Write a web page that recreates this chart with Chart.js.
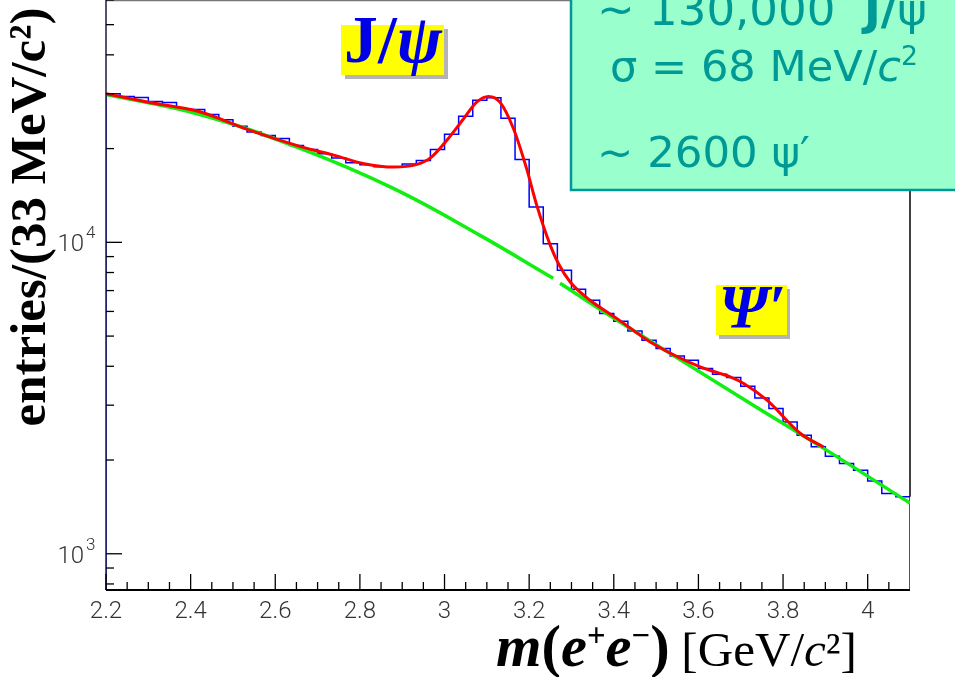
<!DOCTYPE html>
<html>
<head>
<meta charset="utf-8">
<script src="https://cdn.jsdelivr.net/npm/chart.js@4/dist/chart.umd.min.js"></script>
<style>
  html, body { margin: 0; padding: 0; background: #fff; }
  #wrap { width: 955px; height: 677px; position: relative; }
</style>
</head>
<body>
<div id="wrap"><canvas id="c" width="955" height="677"></canvas></div>
<script>
// Dielectron invariant-mass spectrum: 57 bins of 33.3 MeV/c^2 between 2.2 and 4.1 GeV/c^2
const massLow = 2.2;
const massHigh = 4.1;
const binWidth = 1 / 30;

const binCounts = [
  30000, 29400, 29180, 28340, 28130, 26850, 26710, 25740, 24760, 23610,
  22590, 22040, 21560, 20480, 19880, 19260, 18640, 18020, 17760, 17500,
  17500, 17840, 18330, 19880, 22250, 25420, 28610, 29120, 25050, 18460,
  12980, 9905, 8130, 7070, 6515, 5905, 5578, 5193, 4849, 4560,
  4317, 4182, 3933, 3772, 3681, 3451, 3165, 2927, 2651, 2403,
  2205, 2058, 1950, 1855, 1714, 1562, 1524
];

// Full fit (signal + background)
const fitMass   = [2.20, 2.30, 2.42, 2.54, 2.66, 2.74, 2.81, 2.88, 2.935, 2.966, 3.005, 3.045, 3.076, 3.104, 3.131, 3.163, 3.194, 3.218, 3.250, 3.270, 3.297, 3.344, 3.407, 3.486, 3.604, 3.675, 3.707, 3.762, 3.841, 3.896];
const fitCounts = [30000, 28190, 26300, 22870, 20300, 19020, 17890, 17450, 17800, 18640, 21240, 24930, 28190, 29400, 28190, 23160, 17240, 13140, 9780, 8500, 7459, 6515, 5700, 4787, 3980, 3697, 3522, 3112, 2434, 2200];

// Background component (null leaves the small break in the curve)
const bkgMass   = [2.20, 2.422, 2.659, 2.879, 3.084, 3.257, 3.265, 3.273, 3.408, 3.722, 3.895, 4.10];
const bkgCounts = [29850, 25740, 20030, 14900, 10530, 7664, null, 7386, 5621, 3044, 2184, 1454];

const xTickValues = [2.2, 2.4, 2.6, 2.8, 3.0, 3.2, 3.4, 3.6, 3.8, 4.0];
const xTickLabels = ['2.2', '2.4', '2.6', '2.8', '3', '3.2', '3.4', '3.6', '3.8', '4'];
const yTickDecades = [3, 4];

const yMin = 765, yMax = 60000;

// Histogram outline: value of each point holds until the next edge
const histPoints = [{ x: massLow, y: 1 }];
binCounts.forEach((v, i) => histPoints.push({ x: massLow + i * binWidth, y: v }));
histPoints.push({ x: massHigh, y: 1 });

const fitPoints = fitMass.map((m, i) => ({ x: m, y: fitCounts[i] }));
const bkgPoints = bkgMass.map((m, i) => ({ x: m, y: bkgCounts[i] }));

// Draw a sequence of styled text runs, scaled to span a given width
function drawRuns(ctx, runs, x, baseline, targetWidth, color) {
  const measure = (k) => runs.reduce((w, r) => {
    ctx.font = r.style + ' ' + (r.size * k) + 'px ' + r.family;
    return w + ctx.measureText(r.text).width + (r.gap || 0) * k;
  }, 0);
  const k = targetWidth ? targetWidth / measure(1) : 1;
  let cx = x;
  ctx.fillStyle = color;
  ctx.textAlign = 'left';
  ctx.textBaseline = 'alphabetic';
  runs.forEach(r => {
    ctx.font = r.style + ' ' + (r.size * k) + 'px ' + r.family;
    ctx.fillText(r.text, cx, baseline - (r.rise || 0) * k);
    cx += ctx.measureText(r.text).width + (r.gap || 0) * k;
  });
}

const SERIF = '"Liberation Serif", "DejaVu Serif", serif';
const SANS = '"DejaVu Sans", sans-serif';
const TICKFONT = 'Roboto, "DejaVu Sans", sans-serif';

const decorations = {
  id: 'decorations',
  afterDatasetsDraw(chart) {
    const ctx = chart.ctx, a = chart.chartArea;
    const xs = chart.scales.x, ys = chart.scales.y;
    ctx.save();

    // frame
    ctx.lineWidth = 1.5;
    ctx.strokeStyle = '#777';
    ctx.beginPath(); ctx.moveTo(a.left, a.top + 0.5); ctx.lineTo(a.right, a.top + 0.5); ctx.stroke();
    ctx.strokeStyle = '#000';
    ctx.beginPath(); ctx.moveTo(a.right, a.top); ctx.lineTo(a.right, ys.getPixelForValue(binCounts[binCounts.length - 1])); ctx.stroke();
    ctx.strokeStyle = '#1b1b40';
    ctx.beginPath(); ctx.moveTo(a.left, a.top); ctx.lineTo(a.left, a.bottom); ctx.stroke();
    ctx.strokeStyle = '#000';
    ctx.lineWidth = 2;
    ctx.beginPath(); ctx.moveTo(a.left, a.bottom); ctx.lineTo(a.right, a.bottom); ctx.stroke();

    // x ticks, pointing into the plot
    ctx.lineWidth = 1.3;
    for (let k = 0; k * 0.05 <= massHigh - massLow - 0.01; k++) {
      const px = xs.getPixelForValue(massLow + k * 0.05);
      const len = (k % 4 === 0) ? 16 : 8;
      ctx.beginPath(); ctx.moveTo(px, a.bottom); ctx.lineTo(px, a.bottom - len); ctx.stroke();
    }
    // y ticks
    for (let d = 2; d <= 4; d++) {
      for (let m = 1; m <= 9; m++) {
        const v = m * Math.pow(10, d);
        if (v < yMin || v > yMax) continue;
        const py = ys.getPixelForValue(v);
        const len = (m === 1) ? 16 : 8;
        ctx.beginPath(); ctx.moveTo(a.left, py); ctx.lineTo(a.left + len, py); ctx.stroke();
      }
    }

    // tick labels
    ctx.fillStyle = '#333';
    ctx.textAlign = 'center';
    ctx.textBaseline = 'alphabetic';
    ctx.font = '300 24px ' + TICKFONT;
    xTickValues.forEach((v, i) => {
      ctx.fillText(xTickLabels[i], xs.getPixelForValue(v), a.bottom + 28);
    });
    yTickDecades.forEach(d => {
      const py = ys.getPixelForValue(Math.pow(10, d));
      ctx.textAlign = 'right';
      ctx.font = '300 24px ' + TICKFONT;
      ctx.fillText('10', a.left - 22, py + 9);
      ctx.textAlign = 'left';
      ctx.font = '300 17px ' + TICKFONT;
      ctx.fillText(String(d), a.left - 20, py - 4);
    });
    ctx.restore();
  },
  afterDraw(chart) {
    const ctx = chart.ctx;
    ctx.save();

    // axis titles
    ctx.save();
    ctx.translate(45, 217);
    ctx.rotate(-Math.PI / 2);
    ctx.fillStyle = '#000';
    ctx.textAlign = 'center';
    ctx.font = 'bold 51px ' + SERIF;
    ctx.fillText('entries/(33 MeV/c\u00B2)', 0, 0);
    ctx.restore();

    drawRuns(ctx, [
      { text: 'm', style: 'italic bold', size: 50, family: SERIF },
      { text: '(', style: 'bold', size: 50, family: SERIF },
      { text: 'e', style: 'italic bold', size: 50, family: SERIF },
      { text: '+', style: 'bold', size: 28, family: SERIF, rise: 17 },
      { text: 'e', style: 'italic bold', size: 50, family: SERIF },
      { text: '\u2212', style: 'bold', size: 28, family: SERIF, rise: 17 },
      { text: ')', style: 'bold', size: 50, family: SERIF, gap: 10 },
      { text: '[GeV/', style: 'normal', size: 42, family: SERIF },
      { text: 'c', style: 'italic', size: 42, family: SERIF },
      { text: '\u00B2', style: 'normal', size: 42, family: SERIF },
      { text: ']', style: 'normal', size: 42, family: SERIF }
    ], 496, 666, 361, '#000');

    // J/psi label
    ctx.fillStyle = '#b4b4b4';
    ctx.fillRect(345, 29, 103, 50);
    ctx.fillStyle = '#ffff00';
    ctx.fillRect(341, 25, 103, 50);
    drawRuns(ctx, [
      { text: 'J/', style: 'bold', size: 46, family: SERIF },
      { text: '\u03C8', style: 'italic bold', size: 46, family: SERIF }
    ], 344, 62, 98, '#0000e6');

    // psi' label
    ctx.fillStyle = '#b4b4b4';
    ctx.fillRect(719, 289, 71, 50);
    ctx.fillStyle = '#ffff00';
    ctx.fillRect(716, 285, 71, 50);
    drawRuns(ctx, [
      { text: '\u03A8\u2032', style: 'italic bold', size: 54, family: SERIF }
    ], 719, 327, 67, '#0000e6');

    // yield summary box
    ctx.fillStyle = 'rgb(153,255,204)';
    ctx.fillRect(571, -10, 400, 200);
    ctx.strokeStyle = '#009999';
    ctx.lineWidth = 2.5;
    ctx.strokeRect(571, -10, 400, 200);
    const teal = '#009a96';
    drawRuns(ctx, [
      { text: '~ 130,000  ', style: 'normal', size: 42, family: SANS },
      { text: 'J/', style: 'bold', size: 42, family: SANS },
      { text: '\u03C8', style: 'normal', size: 42, family: SANS }
    ], 597, 25, 330, teal);
    drawRuns(ctx, [
      { text: '\u03C3 = 68 MeV/', style: 'normal', size: 42, family: SANS },
      { text: 'c', style: 'italic', size: 42, family: SANS },
      { text: '2', style: 'normal', size: 26, family: SANS, rise: 16 }
    ], 610, 81, 308, teal);
    drawRuns(ctx, [
      { text: '~ 2600 \u03C8\u2032', style: 'normal', size: 42, family: SANS }
    ], 597, 167, 213, teal);

    ctx.restore();
  }
};

new Chart(document.getElementById('c'), {
  type: 'line',
  data: {
    datasets: [
      {
        label: 'data',
        data: histPoints,
        stepped: 'before',
        borderColor: '#0000ff',
        borderWidth: 1.5,
        pointRadius: 0,
        fill: false,
        order: 3
      },
      {
        label: 'background',
        data: bkgPoints,
        borderColor: '#11ee11',
        borderWidth: 3.5,
        pointRadius: 0,
        tension: 0.4,
        spanGaps: false,
        fill: false,
        order: 2
      },
      {
        label: 'fit',
        data: fitPoints,
        borderColor: '#ff0000',
        borderWidth: 3,
        pointRadius: 0,
        cubicInterpolationMode: 'monotone',
        fill: false,
        order: 1
      }
    ]
  },
  options: {
    responsive: false,
    animation: false,
    devicePixelRatio: 1,
    layout: { padding: { left: 106, right: 45, top: 0, bottom: 87 } },
    plugins: { legend: { display: false }, tooltip: { enabled: false } },
    scales: {
      x: { type: 'linear', min: massLow, max: massHigh, display: false },
      y: { type: 'logarithmic', min: yMin, max: yMax, display: false }
    }
  },
  plugins: [decorations]
});
</script>
</body>
</html>
